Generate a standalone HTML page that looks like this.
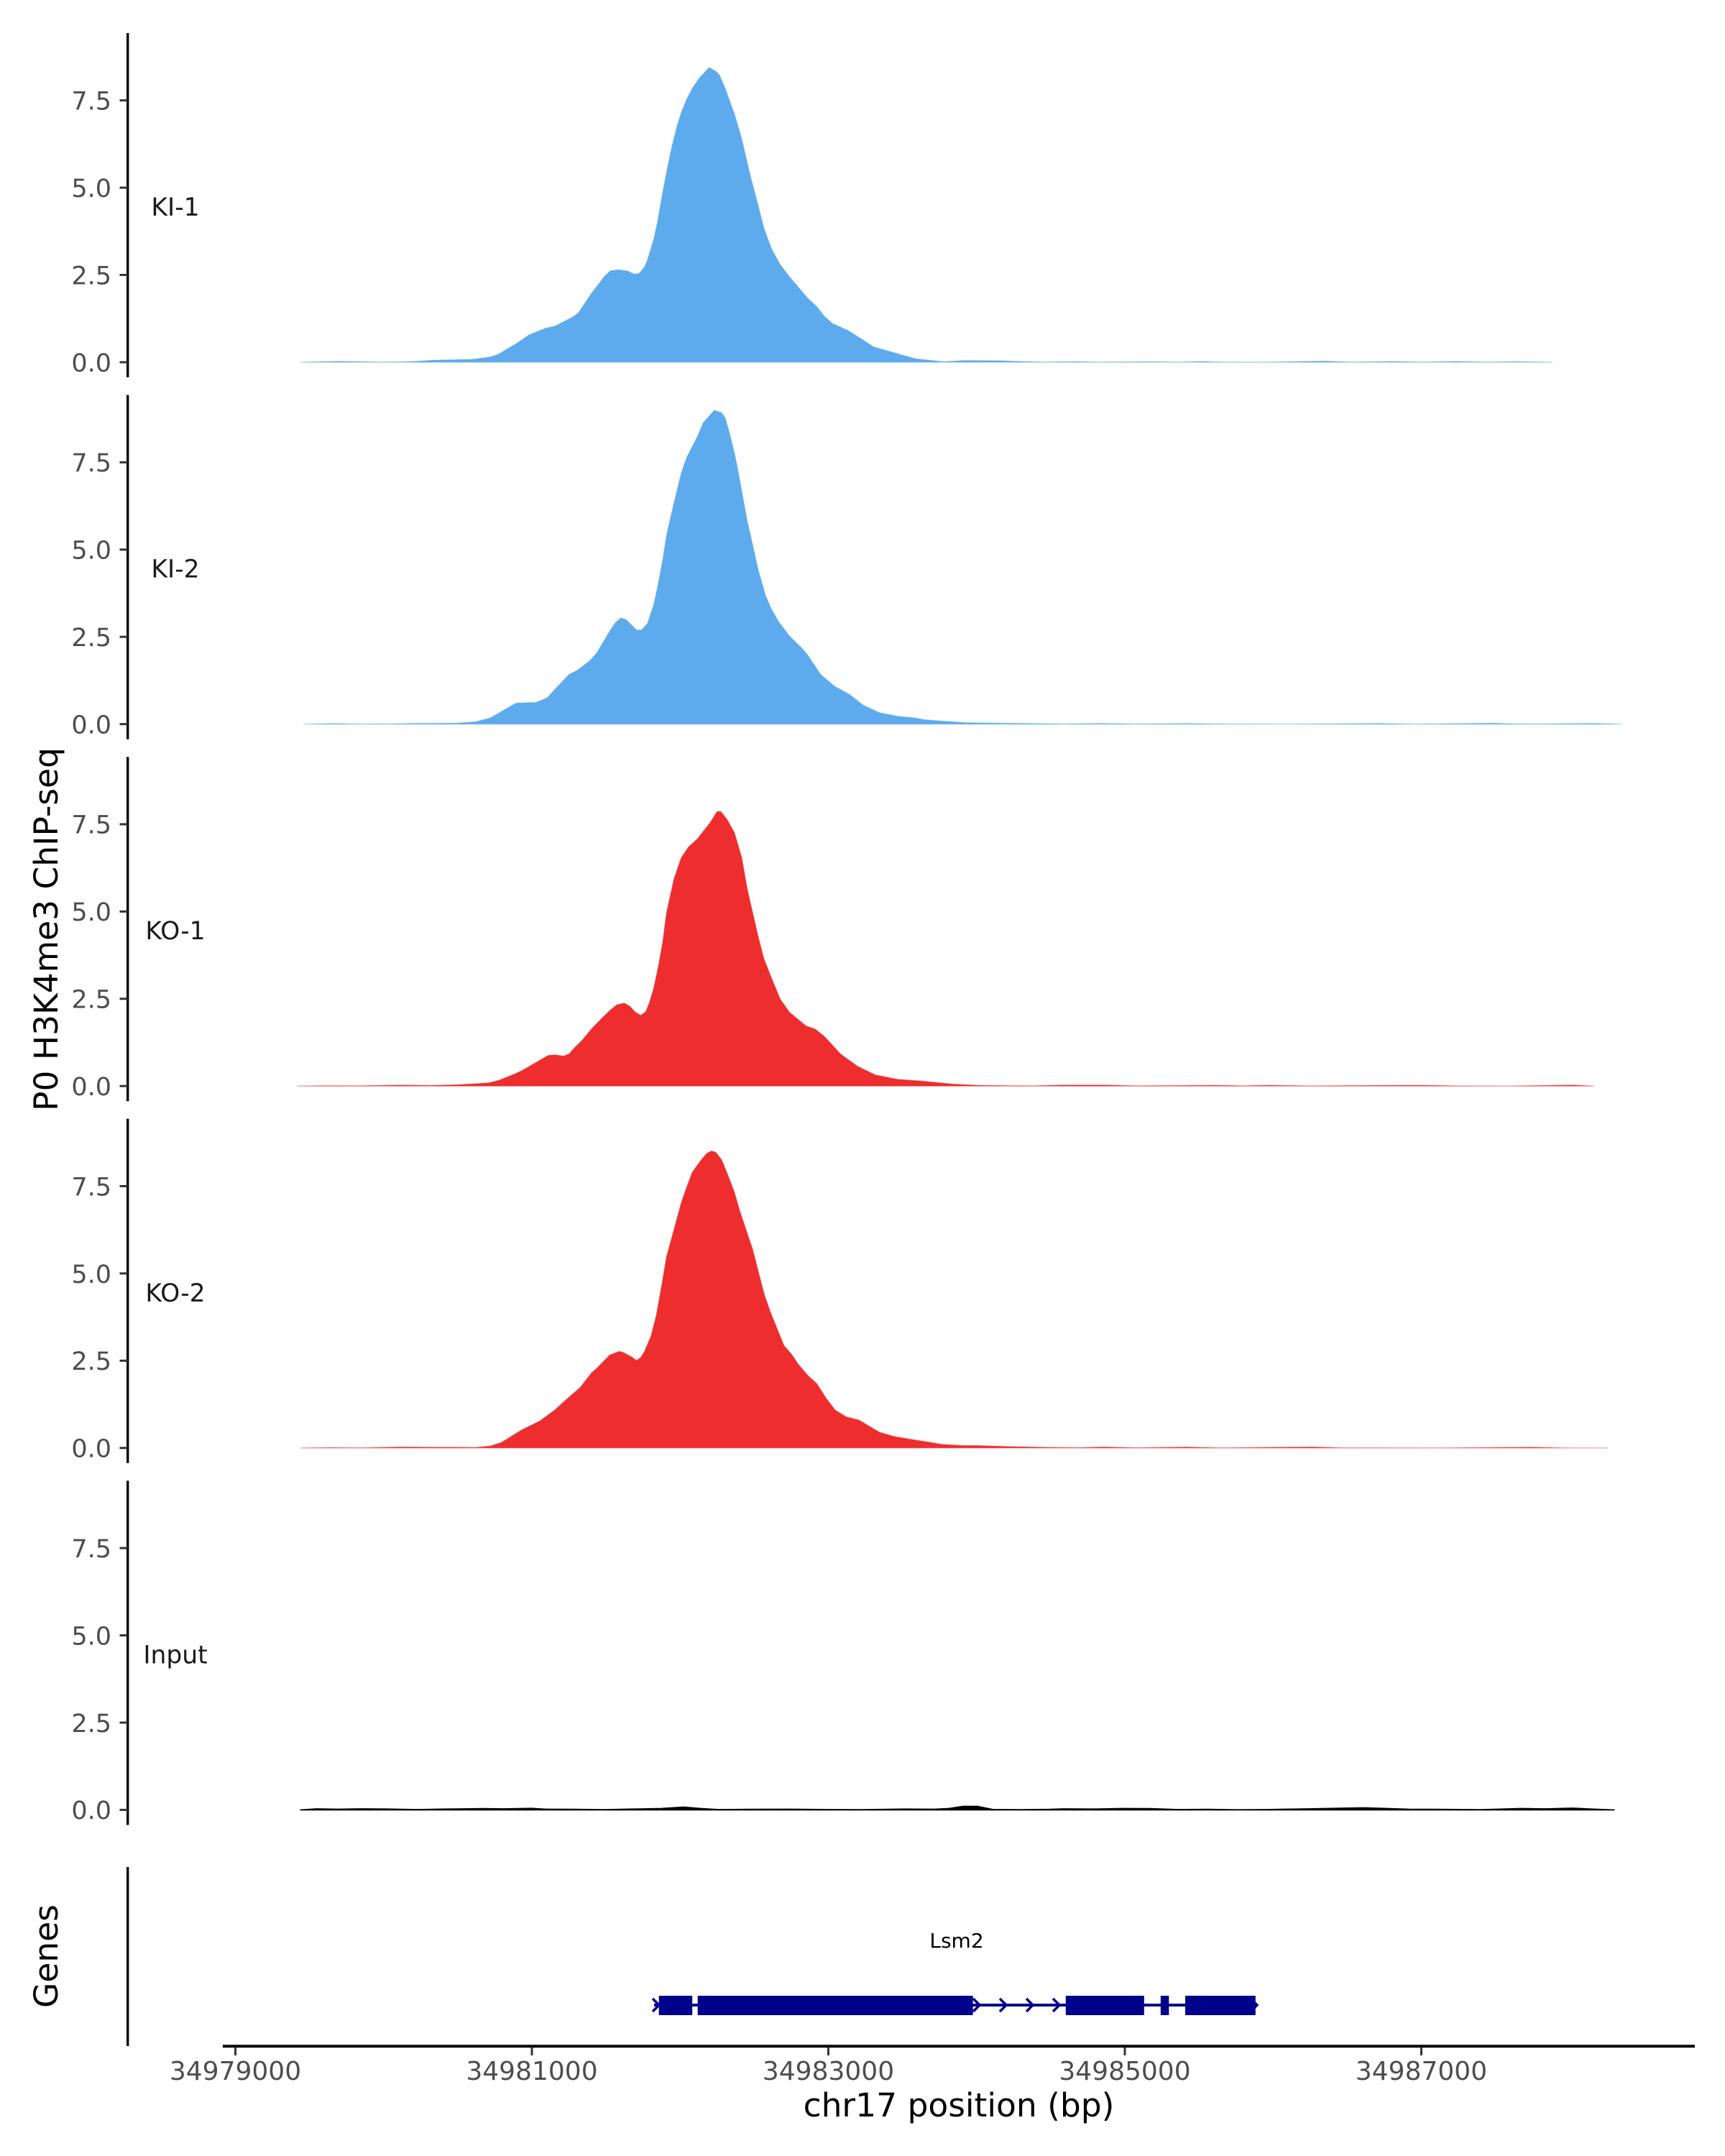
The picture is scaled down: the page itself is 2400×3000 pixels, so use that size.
<!DOCTYPE html>
<html>
<head>
<meta charset="utf-8">
<style>
html,body{margin:0;padding:0;background:#fff;}
svg{display:block;}
text{font-family:"DejaVu Sans","Liberation Sans",sans-serif;}
.tk{font-size:35px;fill:#4d4d4d;text-anchor:end;}
.xt{font-size:36px;fill:#4d4d4d;text-anchor:middle;}
.lab{font-size:34.5px;fill:#1a1a1a;text-anchor:middle;}
.ttl{font-size:45.5px;fill:#000;text-anchor:middle;}
</style>
</head>
<body>
<svg width="2400" height="3000" viewBox="0 0 2400 3000" xmlns="http://www.w3.org/2000/svg">
<rect x="0" y="0" width="2400" height="3000" fill="#fff"/>

<!-- Y axis title -->
<text class="ttl" transform="translate(80,1293) rotate(-90)">P0 H3K4me3 ChIP-seq</text>
<text class="ttl" transform="translate(80,2722) rotate(-90)">Genes</text>

<!-- Panel 1 KI-1 -->
<g transform="translate(0,504)">
<path fill="#5DABEC" stroke="#5DABEC" stroke-opacity="0.5" stroke-width="1.2" d="M418,0 L440,-0.5 470,-1.2 500,-0.8 530,-0.3 560,-0.5 580.4,-1.3 600.8,-2.7 657,-4 682.4,-7.3 692.7,-10.7 718.2,-25.7 736,-38 759,-47.3 771.7,-50 797.2,-63 805,-69 822.8,-95.7 840.6,-119 849.3,-127.3 861,-128.7 873.8,-126.7 881.4,-122.7 889,-123.3 896.7,-132.3 900.8,-142.3 909.5,-170.7 914.6,-194 922.2,-237.3 927.3,-264 935,-300.7 941.6,-327.3 947.8,-347.3 955.4,-365.7 963,-380.7 973.3,-395.7 986.5,-410 996.2,-404.7 1001.3,-399 1009,-380.7 1021.7,-345.7 1032,-310.7 1042,-267.3 1048.8,-240.7 1055,-217.3 1062.6,-187.3 1072.8,-159 1085.5,-135.7 1098.3,-119 1111,-104 1123.8,-89 1136.5,-77.3 1146.7,-64 1158,-54 1180,-44 1200.3,-31.3 1215.6,-21.3 1238.6,-14.7 1274.3,-4.7 1312.6,-0.7 1340.6,-2.3 1360,-2.3 1390,-2 1420,-1 1450,-0.3 1498,-0.8 1530,-0.2 1603,-0.6 1640,-0.1 1670,-1 1700,-0.2 1760,-0.1 1843,-1.5 1880,-0.2 1939,-1 1980,-0.2 2026,-1 2070,-0.2 2112,-0.8 2160,0 Z"/>
<line x1="177.7" y1="-458" x2="177.7" y2="21" stroke="#000" stroke-width="3.4"/>
<g stroke="#333" stroke-width="3">
<line x1="166.5" y1="0" x2="177.7" y2="0"/><line x1="166.5" y1="-121.43" x2="177.7" y2="-121.43"/><line x1="166.5" y1="-242.86" x2="177.7" y2="-242.86"/><line x1="166.5" y1="-364.3" x2="177.7" y2="-364.3"/>
</g>
<text class="tk" x="155" y="12.8">0.0</text><text class="tk" x="155" y="-108.6">2.5</text><text class="tk" x="155" y="-230">5.0</text><text class="tk" x="155" y="-351.5">7.5</text>
<text class="lab" x="244" y="-204">KI-1</text>
</g>

<!-- Panel 2 KI-2 -->
<g transform="translate(0,1007.6)">
<path fill="#5DABEC" stroke="#5DABEC" stroke-opacity="0.5" stroke-width="1.2" d="M422,0 L461,-0.8 500,-0.2 540,-0.3 576,-1 636.5,-1.3 662,-3.3 682.4,-8.7 697.8,-17.7 718.2,-29.3 746.2,-30.3 761.5,-36.7 774.3,-51 792.1,-69.3 802.3,-74.3 820.2,-87.7 830.4,-99.3 848.3,-129.3 856,-141 863.6,-147.7 871.2,-145.3 885.5,-131 892.7,-131 900.8,-140 909.5,-166 914.6,-189.3 922.2,-229.3 927.3,-262.7 936.5,-302.7 947.8,-349.3 955.4,-371 970.7,-401 978.4,-419.3 993.7,-436.7 1003.9,-433.3 1009,-426 1015.6,-402.7 1022.8,-372.7 1026.8,-352.7 1039.6,-282.7 1047.2,-249.3 1054.9,-214.3 1065,-179.3 1072.8,-161 1083,-143 1098.3,-122.7 1116,-105.3 1123.8,-96 1141.6,-69.3 1161,-52.7 1182.4,-41 1200.3,-26.7 1223.3,-16 1248.8,-11 1271.7,-8.7 1287,-6 1310,-4.3 1345.7,-2 1360,-1.7 1400,-1.2 1440,-0.8 1480,-0.4 1536,-0.9 1580,-0.3 1651,-0.8 1700,-0.2 1800,-0.1 1920,-0.9 1970,-0.1 2074,-1.2 2120,-0.2 2218,-1 2256,0 Z"/>
<line x1="177.7" y1="-458" x2="177.7" y2="21" stroke="#000" stroke-width="3.4"/>
<g stroke="#333" stroke-width="3">
<line x1="166.5" y1="0" x2="177.7" y2="0"/><line x1="166.5" y1="-121.43" x2="177.7" y2="-121.43"/><line x1="166.5" y1="-242.86" x2="177.7" y2="-242.86"/><line x1="166.5" y1="-364.3" x2="177.7" y2="-364.3"/>
</g>
<text class="tk" x="155" y="12.8">0.0</text><text class="tk" x="155" y="-108.6">2.5</text><text class="tk" x="155" y="-230">5.0</text><text class="tk" x="155" y="-351.5">7.5</text>
<text class="lab" x="244" y="-204">KI-2</text>
</g>

<!-- Panel 3 KO-1 -->
<g transform="translate(0,1511.2)">
<path fill="#EE2D2E" stroke="#EE2D2E" stroke-opacity="0.5" stroke-width="1.2" d="M413,0 L450,-0.5 500,-0.3 557,-1.2 600,-0.8 636.5,-1.7 680,-4.3 695.2,-8.3 718.2,-17.7 728.4,-22.7 751.3,-36 763,-42.7 771.7,-43.3 784.5,-41.7 792.1,-45 799.8,-53.7 810,-63.7 822.8,-79.3 838,-95 848.3,-105 858.5,-113.3 868.7,-115.3 876.3,-111 884,-102.7 891.6,-98.3 898.3,-103.3 902.9,-114.3 909.5,-136 915.6,-164.3 922.2,-201 927.3,-241 937.6,-287.7 947.8,-317.7 958,-332.7 970.7,-344.3 978.4,-354.3 987.6,-366 997.8,-382 1002.9,-382 1011.5,-371 1021.7,-352.7 1032,-317.7 1039.6,-274.3 1047.2,-241 1054.9,-207.7 1062.6,-177.7 1071.7,-154.3 1085.5,-121 1098.3,-102.7 1121.2,-83.7 1134,-79.3 1146.7,-69.3 1169.7,-44.3 1192.7,-27.7 1218.2,-15.3 1248.8,-9.3 1282,-7 1325.3,-2.7 1360,-1 1400,-0.5 1440,-0.3 1478,-1.3 1536,-1.3 1580,-0.3 1690,-1 1730,-0.3 1766,-1 1820,-0.2 1920,-0.8 1978,-1 2030,-0.2 2100,-0.1 2189,-1.2 2218,0 Z"/>
<line x1="177.7" y1="-458" x2="177.7" y2="21" stroke="#000" stroke-width="3.4"/>
<g stroke="#333" stroke-width="3">
<line x1="166.5" y1="0" x2="177.7" y2="0"/><line x1="166.5" y1="-121.43" x2="177.7" y2="-121.43"/><line x1="166.5" y1="-242.86" x2="177.7" y2="-242.86"/><line x1="166.5" y1="-364.3" x2="177.7" y2="-364.3"/>
</g>
<text class="tk" x="155" y="12.8">0.0</text><text class="tk" x="155" y="-108.6">2.5</text><text class="tk" x="155" y="-230">5.0</text><text class="tk" x="155" y="-351.5">7.5</text>
<text class="lab" x="244" y="-204">KO-1</text>
</g>

<!-- Panel 4 KO-2 -->
<g transform="translate(0,2014.8)">
<path fill="#EE2D2E" stroke="#EE2D2E" stroke-opacity="0.5" stroke-width="1.2" d="M418,0 L460,-0.5 500,-0.2 557,-1.3 600,-1 634,-1 662,-0.7 682.4,-2.7 697.8,-7.7 725.8,-25 751.3,-37.7 771.7,-52.7 784.5,-64.3 799.8,-77.7 807.4,-84.3 822.8,-104.3 830.4,-111 848.3,-129.3 861,-134.3 866.1,-133.3 878.9,-126.7 885.5,-121.7 891.6,-126 896.7,-134.3 905.9,-156 913.1,-184.3 921.2,-229.3 927.3,-266 936.5,-299.3 947.8,-341 955.4,-362.7 963,-383.3 975.8,-401 983.5,-410 990.1,-413.3 996.2,-411 1003.9,-401 1011.5,-382.7 1021.7,-356 1029.4,-329.3 1047.2,-276 1054.9,-246 1062.6,-216 1071.7,-189.3 1090.6,-142.7 1100.8,-131 1111,-116 1123.8,-101 1136.5,-89.3 1149.3,-69.3 1162,-52.7 1177.3,-43.3 1195.2,-38.7 1223.3,-22 1243.7,-16 1269.2,-11.7 1294.7,-7.7 1310,-5 1340.6,-3.3 1360,-3.3 1400,-2 1459,-0.8 1500,-0.4 1536,-1.3 1580,-0.3 1651,-1.2 1700,-0.2 1824,-1.3 1870,-0.2 2000,-0.1 2131,-1 2180,-0.1 2237,0 Z"/>
<line x1="177.7" y1="-458" x2="177.7" y2="21" stroke="#000" stroke-width="3.4"/>
<g stroke="#333" stroke-width="3">
<line x1="166.5" y1="0" x2="177.7" y2="0"/><line x1="166.5" y1="-121.43" x2="177.7" y2="-121.43"/><line x1="166.5" y1="-242.86" x2="177.7" y2="-242.86"/><line x1="166.5" y1="-364.3" x2="177.7" y2="-364.3"/>
</g>
<text class="tk" x="155" y="12.8">0.0</text><text class="tk" x="155" y="-108.6">2.5</text><text class="tk" x="155" y="-230">5.0</text><text class="tk" x="155" y="-351.5">7.5</text>
<text class="lab" x="244" y="-204">KO-2</text>
</g>

<!-- Panel 5 Input -->
<g transform="translate(0,2518.4)">
<path fill="#000" stroke="#000" stroke-width="1.6" stroke-linejoin="round" d="M418,0 L440,-1.5 470,-1 500,-1.5 540,-1.2 580,-0.5 620,-1.2 673,-1.8 700,-1.5 739,-2.2 760,-1 800,-0.8 840,-0.3 880,-1.2 920,-2 951,-4 975,-2 1000,-0.5 1040,-0.8 1100,-1 1150,-0.5 1200,-0.3 1260,-1.2 1300,-1 1320,-2 1340,-5 1360,-5 1382,-0.5 1420,-0.3 1460,-0.8 1480,-1.5 1520,-1.2 1560,-2 1600,-1.8 1640,-0.5 1680,-0.8 1720,-0.2 1760,-0.5 1820,-1.5 1870,-2.5 1897,-3 1930,-2 1960,-1 2000,-0.8 2060,-0.4 2116,-2 2150,-1.5 2188,-2.5 2220,-1 2246,0 Z"/>
<line x1="177.7" y1="-458" x2="177.7" y2="21" stroke="#000" stroke-width="3.4"/>
<g stroke="#333" stroke-width="3">
<line x1="166.5" y1="0" x2="177.7" y2="0"/><line x1="166.5" y1="-121.43" x2="177.7" y2="-121.43"/><line x1="166.5" y1="-242.86" x2="177.7" y2="-242.86"/><line x1="166.5" y1="-364.3" x2="177.7" y2="-364.3"/>
</g>
<text class="tk" x="155" y="12.8">0.0</text><text class="tk" x="155" y="-108.6">2.5</text><text class="tk" x="155" y="-230">5.0</text><text class="tk" x="155" y="-351.5">7.5</text>
<text class="lab" x="244" y="-204">Input</text>
</g>

<!-- Genes panel -->
<line x1="177.7" y1="2598" x2="177.7" y2="2847" stroke="#000" stroke-width="3.4"/>
<text x="1331" y="2710" font-size="28" fill="#000" text-anchor="middle">Lsm2</text>
<g fill="#00008B" stroke="none">
<rect x="910" y="2788" width="839" height="4"/>
<rect x="916.7" y="2777" width="46.5" height="27"/>
<rect x="970.7" y="2777" width="382.9" height="27"/>
<rect x="1482.8" y="2777" width="109" height="27"/>
<rect x="1614.8" y="2777" width="11.5" height="27"/>
<rect x="1649" y="2777" width="97.8" height="27"/>
</g>
<g fill="none" stroke="#00008B" stroke-width="3.5">
<polyline points="908,2781 917,2790 908,2799"/>
<polyline points="1354,2781 1363,2790 1354,2799"/>
<polyline points="1391,2781 1400,2790 1391,2799"/>
<polyline points="1428,2781 1437,2790 1428,2799"/>
<polyline points="1465,2781 1474,2790 1465,2799"/>
<polyline points="1742,2783 1749,2790 1742,2797"/>
</g>

<!-- X axis -->
<line x1="310" y1="2847.3" x2="2358" y2="2847.3" stroke="#000" stroke-width="4"/>
<g stroke="#333" stroke-width="3">
<line x1="327.5" y1="2849" x2="327.5" y2="2860"/>
<line x1="740" y1="2849" x2="740" y2="2860"/>
<line x1="1152.5" y1="2849" x2="1152.5" y2="2860"/>
<line x1="1565" y1="2849" x2="1565" y2="2860"/>
<line x1="1977.5" y1="2849" x2="1977.5" y2="2860"/>
</g>
<text class="xt" x="327.5" y="2894">34979000</text>
<text class="xt" x="740" y="2894">34981000</text>
<text class="xt" x="1152.5" y="2894">34983000</text>
<text class="xt" x="1565" y="2894">34985000</text>
<text class="xt" x="1977.5" y="2894">34987000</text>
<text class="ttl" x="1334" y="2945">chr17 position (bp)</text>
</svg>
</body>
</html>
